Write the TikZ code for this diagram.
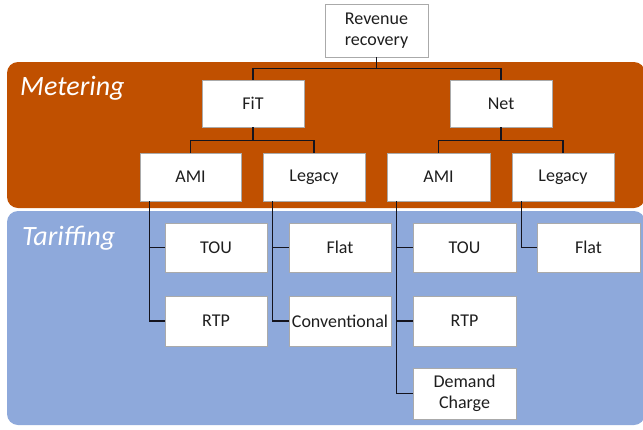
\documentclass[tikz,border=0pt]{standalone}
\usepackage{fontspec}
\setmainfont{Carlito}
\definecolor{meterorange}{RGB}{192,80,0}
\definecolor{tariffblue}{RGB}{142,169,219}
\definecolor{boxline}{RGB}{170,170,170}
\definecolor{txt}{RGB}{30,30,30}
\definecolor{conn}{RGB}{20,20,30}
\begin{document}
\begin{tikzpicture}[x=1pt,y=-1pt,
  box/.style={draw=boxline,line width=0.8pt,fill=white,minimum width=102pt,minimum height=48pt,inner sep=0pt,align=center,text=txt,font=\fontsize{18}{21}\selectfont},
  link/.style={draw=conn,line width=1.4pt},
  paneltitle/.style={anchor=west,text=white,font=\fontsize{28}{32}\selectfont\itshape,inner sep=0pt}]
\useasboundingbox (0,0) rectangle (643,429);
% panels
\fill[meterorange,rounded corners=11pt] (7,62) rectangle (645,208);
\fill[tariffblue,rounded corners=11pt] (7,211) rectangle (645,425);
\node[paneltitle] (tmeter) at (20,88) {Metering};
\node[paneltitle] (ttariff) at (22,238) {Tariffing};
% boxes
\node[box,minimum width=103pt,minimum height=53pt] (rev) at (376.5,30.5) {Revenue\\recovery};
\node[box,minimum height=47pt] (fit) at (253,103.5) {FiT};
\node[box,minimum height=47pt] (net) at (501,103.5) {Net};
\node[box,minimum width=101pt] (ami1) at (190.5,177) {AMI};
\node[box] (leg1) at (314,177) {Legacy};
\node[box,minimum width=103pt] (ami2) at (438.5,177) {AMI};
\node[box] (leg2) at (563,177) {Legacy};
\node[box,minimum height=49pt] (tou1) at (216,247.5) {TOU};
\node[box,minimum height=50pt] (rtp1) at (216,321) {RTP};
\node[box,minimum height=49pt] (flat1) at (340,247.5) {Flat};
\node[box,minimum height=50pt] (conv) at (340,321) {Conventional};
\node[box,minimum width=103pt,minimum height=49pt] (tou2) at (464.5,247.5) {TOU};
\node[box,minimum width=103pt,minimum height=50pt] (rtp2) at (464.5,321) {RTP};
\node[box,minimum width=103pt,minimum height=51pt] (dem) at (464.5,393.5) {Demand\\Charge};
\node[box,minimum width=103pt,minimum height=49pt] (flat2) at (588.5,247.5) {Flat};
% metering connectors
\draw[link] (rev.south) -- ++(0,11) -| (fit.north);
\draw[link] (rev.south) -- ++(0,11) -| (net.north);
\draw[link] (fit.south) -- ++(0,13) -| (ami1.north);
\draw[link] (fit.south) -- ++(0,13) -| (leg1.north);
\draw[link] (net.south) -- ++(0,13) -| (ami2.north);
\draw[link] (net.south) -- ++(0,13) -| (leg2.north);
% tariffing connectors
\draw[link] ([xshift=10pt]ami1.south west) |- (tou1.west);
\draw[link] ([xshift=10pt]ami1.south west) |- (rtp1.west);
\draw[link] ([xshift=10pt]leg1.south west) |- (flat1.west);
\draw[link] ([xshift=10pt]leg1.south west) |- (conv.west);
\draw[link] ([xshift=10pt]ami2.south west) |- (tou2.west);
\draw[link] ([xshift=10pt]ami2.south west) |- (rtp2.west);
\draw[link] ([xshift=10pt]ami2.south west) |- (dem.west);
\draw[link] ([xshift=10pt]leg2.south west) |- (flat2.west);
\end{tikzpicture}
\end{document}
